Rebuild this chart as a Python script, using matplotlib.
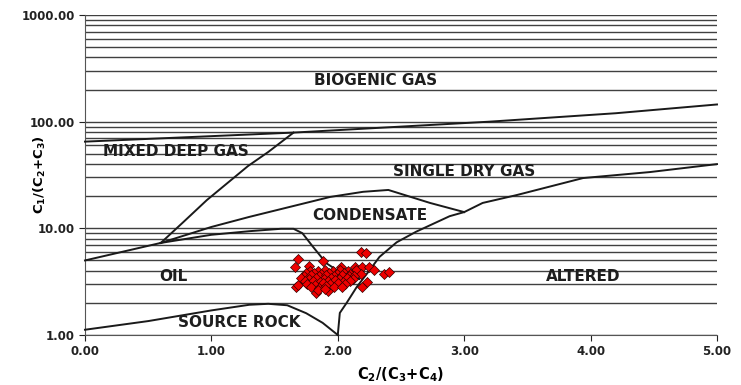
import matplotlib.pyplot as plt

plt.rcParams['font.family'] = ['DejaVu Sans']
plt.rcParams['font.weight'] = 'bold'

# boundary curves (x = C2/(C3+C4), y = C1/(C2+C3))
biogenic_x = [0.0, 1.65, 3.2, 4.2, 5.0]
biogenic_y = [65, 79, 100, 120, 145]

low_x = [0.0, 0.6]
low_y = [5.0, 7.3]

mixed_x = [0.6, 0.78, 0.964, 1.15, 1.29, 1.45, 1.65]
mixed_y = [7.3, 11.5, 18.4, 28, 38.4, 52, 79]

cond_x = [0.6, 1.0, 1.3, 1.94, 2.2, 2.4, 2.73, 3.0]
cond_y = [7.3, 10.3, 12.8, 19.7, 22.0, 22.9, 17.3, 14.2]

oil_x = [0.6, 1.0, 1.3, 1.55, 1.65, 1.72, 1.8, 1.91, 2.03, 2.17]
oil_y = [7.3, 8.7, 9.4, 9.9, 9.9, 9.0, 6.8, 4.7, 3.8, 3.35]

source_x = [0.0, 0.5, 1.0, 1.3, 1.45, 1.6, 1.75, 1.88, 2.0]
source_y = [1.12, 1.35, 1.7, 1.92, 1.96, 1.9, 1.6, 1.3, 1.0]

altered_x = [2.0, 2.016, 2.07, 2.15, 2.253, 2.33, 2.466, 2.62, 2.885, 3.0, 3.146, 3.415, 3.94, 4.47, 5.0]
altered_y = [1.0, 1.61, 2.0, 2.82, 4.07, 5.4, 7.4, 9.3, 13.0, 14.2, 17.3, 20.5, 29.6, 33.7, 40]

# samples
pts_x = [1.686, 1.660, 1.884, 1.771, 2.187, 2.221, 2.029, 2.134, 2.195, 2.247,
         2.285, 2.148, 2.187, 2.364, 2.405, 2.235, 2.195, 1.668, 1.686, 1.826,
         1.923, 1.721, 1.747,
         1.78, 1.84, 1.90, 1.96, 2.02, 2.08,
         1.75, 1.81, 1.87, 1.93, 1.99, 2.05, 2.10,
         1.73, 1.79, 1.85, 1.91, 1.97, 2.03, 2.09, 2.13,
         1.71, 1.77, 1.83, 1.89, 1.95, 2.01, 2.07, 2.12,
         1.74, 1.80, 1.86, 1.92, 1.98, 2.04, 2.10,
         1.76, 1.82, 1.88, 1.94, 2.00, 2.06,
         1.79, 1.85, 1.91, 1.97, 2.03,
         1.84, 1.90]
pts_y = [5.12, 4.37, 4.94, 4.43, 6.04, 5.83, 4.37, 4.37, 4.31, 4.37,
         4.07, 4.07, 3.73, 3.73, 3.92, 3.16, 2.80, 2.84, 2.94, 2.49,
         2.60, 3.33, 3.05,
         4.02, 3.95, 4.05, 3.98, 4.10, 3.96,
         3.78, 3.84, 3.74, 3.82, 3.76, 3.85, 3.72,
         3.58, 3.64, 3.55, 3.62, 3.57, 3.66, 3.54, 3.60,
         3.40, 3.36, 3.44, 3.38, 3.45, 3.35, 3.42, 3.37,
         3.18, 3.24, 3.15, 3.22, 3.26, 3.16, 3.20,
         3.02, 2.96, 3.05, 2.98, 3.04, 3.00,
         2.82, 2.76, 2.85, 2.79, 2.84,
         2.66, 2.70]

labels = ['BIOGENIC GAS', 'MIXED DEEP GAS', 'SINGLE DRY GAS', 'CONDENSATE', 'OIL', 'ALTERED', 'SOURCE ROCK']
label_x = [2.3, 0.72, 3.0, 2.25, 0.7, 3.94, 1.22]
label_y = [245, 52, 34.4, 13.3, 3.5, 3.5, 1.3]

fig = plt.figure(figsize=(7.41, 3.85), dpi=100)
ax = fig.add_axes([0.1147, 0.1299, 0.8529, 0.8311])
ax.set_yscale('log')
ax.set_xlim(0, 5)
ax.set_ylim(1, 1000)

# horizontal grid at every minor value
for dec in [1, 10, 100]:
    for k in range(1, 10):
        ax.axhline(k * dec, color='#404040', lw=1.0, zorder=1)
ax.axhline(1000, color='#404040', lw=1.0, zorder=1)

for xs, ys in [(biogenic_x, biogenic_y), (low_x, low_y), (mixed_x, mixed_y),
               (cond_x, cond_y), (oil_x, oil_y), (source_x, source_y),
               (altered_x, altered_y)]:
    ax.plot(xs, ys, color='#1a1a1a', lw=1.4, zorder=3, clip_on=False)

ax.scatter(pts_x, pts_y, marker='D', s=26, color='#ee0000', edgecolor='#330000',
           linewidth=0.5, zorder=4)

for t, lx, ly in zip(labels, label_x, label_y):
    ax.text(lx, ly, t, ha='center', va='center', fontsize=11, fontweight='bold',
            color='#1e1e1e', zorder=5)

ax.set_xticks([0, 1, 2, 3, 4, 5])
ax.set_xticklabels(['0.00', '1.00', '2.00', '3.00', '4.00', '5.00'])
ax.set_yticks([1, 10, 100, 1000])
ax.set_yticklabels(['1.00', '10.00', '100.00', '1000.00'])
ax.yaxis.set_minor_locator(plt.NullLocator())
ax.tick_params(axis='both', direction='out', length=4, labelsize=8.5, colors='#222222')
for lab in ax.get_xticklabels() + ax.get_yticklabels():
    lab.set_fontweight('bold')

ax.spines['top'].set_visible(False)
ax.spines['right'].set_visible(False)
ax.spines['left'].set_color('#555555')
ax.spines['bottom'].set_color('#555555')

ax.set_xlabel(r'C$_\mathbf{2}$/(C$_\mathbf{3}$+C$_\mathbf{4}$)', fontsize=10.5,
              fontweight='bold', labelpad=5)
ax.set_ylabel(r'C$_\mathbf{1}$/(C$_\mathbf{2}$+C$_\mathbf{3}$)', fontsize=9.5,
              fontweight='bold')
ax.yaxis.set_label_coords(-0.058, 0.5)

fig.savefig('out.png', dpi=100)
